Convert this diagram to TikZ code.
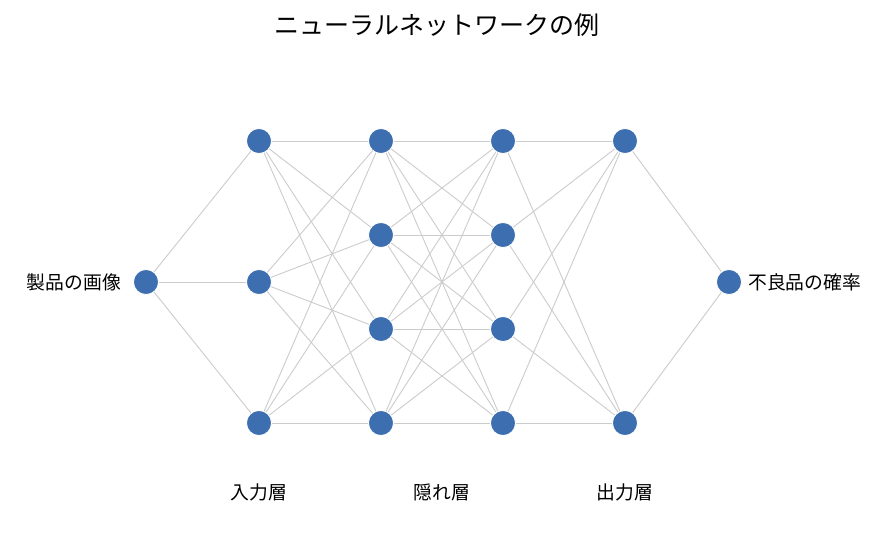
\documentclass[tikz,border=0pt]{standalone}
\usepackage{fontspec}
\setmainfont{Noto Sans CJK JP}
\definecolor{nodeblue}{HTML}{3C6EB0}
\definecolor{edgegray}{HTML}{CCCCCC}
\begin{document}
\begin{tikzpicture}[x=1pt,y=-1pt,
  neuron/.style={circle,fill=nodeblue,draw=white,line width=0.8pt,minimum size=25pt,inner sep=0pt},
  edge/.style={draw=edgegray,line width=0.9pt},
  lbl/.style={font=\fontsize{18.8}{22}\selectfont,inner sep=0pt},
  ttl/.style={font=\fontsize{25}{29}\selectfont,inner sep=0pt}]
\useasboundingbox (0,0) rectangle (875,555);
\fill[white] (0,0) rectangle (875,555);
% nodes
\node[neuron] (i1) at (146,282) {};
\node[neuron] (a1) at (259,141) {};
\node[neuron] (a2) at (259,282) {};
\node[neuron] (a3) at (259,423) {};
\foreach \k/\y in {1/141,2/235,3/329,4/423}{
  \node[neuron] (b\k) at (381,\y) {};
  \node[neuron] (c\k) at (503,\y) {};
}
\node[neuron] (d1) at (625,141) {};
\node[neuron] (d2) at (625,423) {};
\node[neuron] (o1) at (729,282) {};
% edges
\foreach \j in {1,2,3}{ \draw[edge] (i1) -- (a\j); }
\foreach \i in {1,2,3}{ \foreach \j in {1,2,3,4}{ \draw[edge] (a\i) -- (b\j); } }
\foreach \i in {1,2,3,4}{ \foreach \j in {1,2,3,4}{ \draw[edge] (b\i) -- (c\j); } }
\foreach \i in {1,2,3,4}{ \foreach \j in {1,2}{ \draw[edge] (c\i) -- (d\j); } }
\foreach \i in {1,2}{ \draw[edge] (d\i) -- (o1); }
% labels
\node[lbl,anchor=east] (lin) at (121,282) {製品の画像};
\node[lbl,anchor=west] (lout) at (748,282) {不良品の確率};
\node[ttl] (title) at (437,25) {ニューラルネットワークの例};
\node[lbl] (l1) at (259,492) {入力層};
\node[lbl] (l2) at (442,492) {隠れ層};
\node[lbl] (l3) at (625,492) {出力層};
\end{tikzpicture}
\end{document}
